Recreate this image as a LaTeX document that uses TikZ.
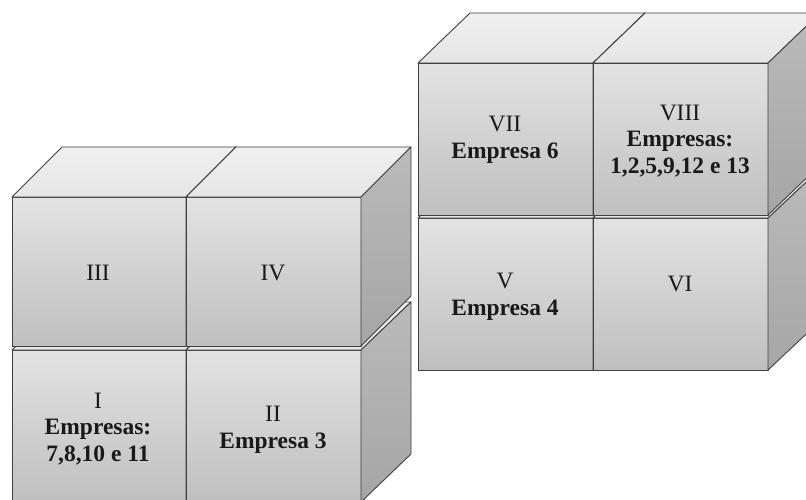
\documentclass[tikz,border=0pt]{standalone}
\usepackage{fontspec}
\setmainfont{Liberation Serif}
\tikzset{
  edge/.style={draw=black!75, line width=0.9pt, line join=round},
  frontface/.style={edge, top color=black!11, bottom color=black!25},
  topface/.style={edge, top color=black!6, bottom color=black!10},
  sideface/.style={edge, top color=black!27, bottom color=black!35},
  lbl/.style={align=center, font=\fontsize{23.5}{26.5}\selectfont, text=black!90, inner sep=0pt}
}
\newcommand\drawcube[6]{%
  \path[frontface] (#1,#2) rectangle ({#1+(#3)},{#2+(#4)});
  \path[topface] (#1,#2) -- ({#1+(#5)},{#2+(#6)}) -- ({#1+(#3)+(#5)},{#2+(#6)}) -- ({#1+(#3)},#2) -- cycle;
  \path[sideface] ({#1+(#3)},#2) -- ({#1+(#3)+(#5)},{#2+(#6)}) -- ({#1+(#3)+(#5)},{#2+(#4)+(#6)}) -- ({#1+(#3)},{#2+(#4)}) -- cycle;
}
\begin{document}
\begin{tikzpicture}[x=1pt,y=-1pt]
\useasboundingbox (0,0) rectangle (806,500);
\clip (0,0) rectangle (806,500);
\fill[white] (0,0) rectangle (806,500);
% left group
\drawcube{12}{350}{174}{152}{50}{-48}
\drawcube{186}{350}{175}{152}{50}{-48}
\drawcube{12}{197}{174}{149}{50}{-50}
\drawcube{186}{197}{175}{149}{50}{-50}
% right group
\drawcube{418}{218}{175}{152}{51}{-48}
\drawcube{593}{218}{175}{152}{51}{-48}
\drawcube{418}{63}{175}{152}{52}{-50}
\drawcube{593}{63}{175}{152}{52}{-50}
% labels
\node[lbl] (t3) at (98,273) {III};
\node[lbl] (t4) at (273,273) {IV};
\node[lbl] (t1) at (98,429) {I\\\textbf{Empresas:}\\\textbf{7,8,10 e 11}};
\node[lbl] (t2) at (273,430) {II\\\textbf{Empresa 3}};
\node[lbl] (t7) at (505,140) {VII\\\textbf{Empresa 6}};
\node[lbl] (t8) at (680,141) {VIII\\\textbf{Empresas:}\\\textbf{1,2,5,9,12 e 13}};
\node[lbl] (t5) at (505,297) {V\\\textbf{Empresa 4}};
\node[lbl] (t6) at (680,284) {VI};
\end{tikzpicture}
\end{document}
